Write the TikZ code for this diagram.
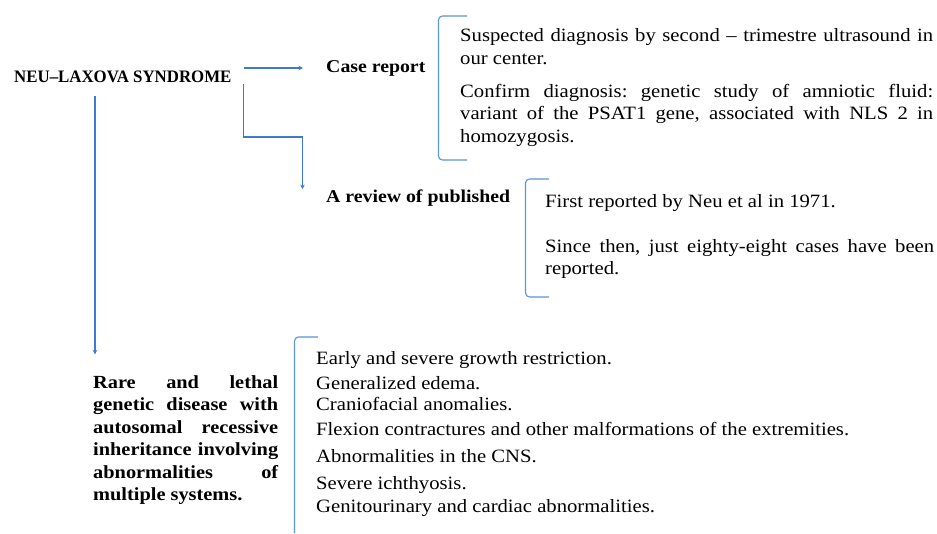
\documentclass[tikz,border=0pt]{standalone}
\usepackage{fontspec}
\usepackage{graphicx}
\setmainfont{Liberation Serif}[FakeStretch=1.1]
\usetikzlibrary{arrows.meta}
\definecolor{linkblue}{RGB}{62,122,208}
\definecolor{braceblue}{RGB}{91,150,215}
\tikzset{
  link/.style={draw=linkblue, line width=1.1pt, -{Stealth[length=4.5pt,width=4.5pt]}},
  bracket/.style={draw=braceblue, line width=1.1pt, rounded corners=4pt},
  heading/.style={anchor=base west, inner sep=0pt, font=\fontsize{18}{22}\selectfont\bfseries},
  note/.style={anchor=base west, inner sep=0pt, align=justify, font=\frenchspacing\fontsize{18.8}{22.5}\selectfont},
  sign/.style={anchor=base west, inner sep=0pt, font=\fontsize{18.8}{23}\selectfont}
}
\begin{document}
\begin{tikzpicture}[x=1pt, y=-1pt]
% draw background to fix the margins
\fill[white] (0,0) rectangle (937,533);

% draw nodes for the headings
\draw (14,82) node[heading, font=\fontsize{17.5}{20}\selectfont\bfseries] (title)
  {\scalebox{0.875}[1]{NEU–LAXOVA SYNDROME}};
\draw (326,72) node[heading] (caserep) {Case report};
\draw (326,202) node[heading] (review) {A review of published};
\draw (93,388.5) node[note, text width=185pt, font=\fontsize{18.5}{22.4}\selectfont\bfseries] (rare) {
  Rare and lethal\linebreak
  genetic disease with\linebreak
  autosomal recessive\linebreak
  inheritance involving\linebreak
  abnormalities of\linebreak
  multiple systems.
};

% draw nodes for the findings
\draw (460,41.5) node[note, text width=473pt] (suspect) {
  Suspected diagnosis by second – trimestre ultrasound in\linebreak
  our center.\\[10.5pt]
  Confirm diagnosis: genetic study of amniotic fluid:\linebreak
  variant of the PSAT1 gene, associated with NLS 2 in\linebreak
  homozygosis.
};
\draw (545,207.5) node[note, text width=389pt, font=\frenchspacing\fontsize{18.8}{22}\selectfont] (first) {
  First reported by Neu et al in 1971.\\[23pt]
  Since then, just eighty-eight cases have been\linebreak
  reported.
};
\foreach \y/\t [count=\i] in {
  364.5/Early and severe growth restriction.,
  389.5/Generalized edema.,
  410/Craniofacial anomalies.,
  435/Flexion contractures and other malformations of the extremities.,
  462.5/Abnormalities in the CNS.,
  489.5/Severe ichthyosis.,
  512.5/Genitourinary and cardiac abnormalities.}
  \draw (316,\y) node[sign] (sign\i) {\t};

% draw brackets
\draw[bracket] (467,16) -- (438.5,16) -- (438.5,160) -- (467,160);
\draw[bracket] (549,179) -- (525.5,179) -- (525.5,297) -- (549,297);
\draw[bracket] (318,337) -- (294.5,337) -- (294.5,533);

% draw connectors
\draw[link] ([xshift=12pt]title.east |- caserep.west) -- ([xshift=-23pt]caserep.west);
\draw[link] ([xshift=12pt,yshift=-2pt]title.south east) -- ++(0,52.5)
  -| ([xshift=-23.5pt]review.north west);
\draw[link] ([xshift=81pt,yshift=-14pt]title.south west) -- ([xshift=2pt,yshift=21pt]rare.north west);
\end{tikzpicture}
\end{document}
